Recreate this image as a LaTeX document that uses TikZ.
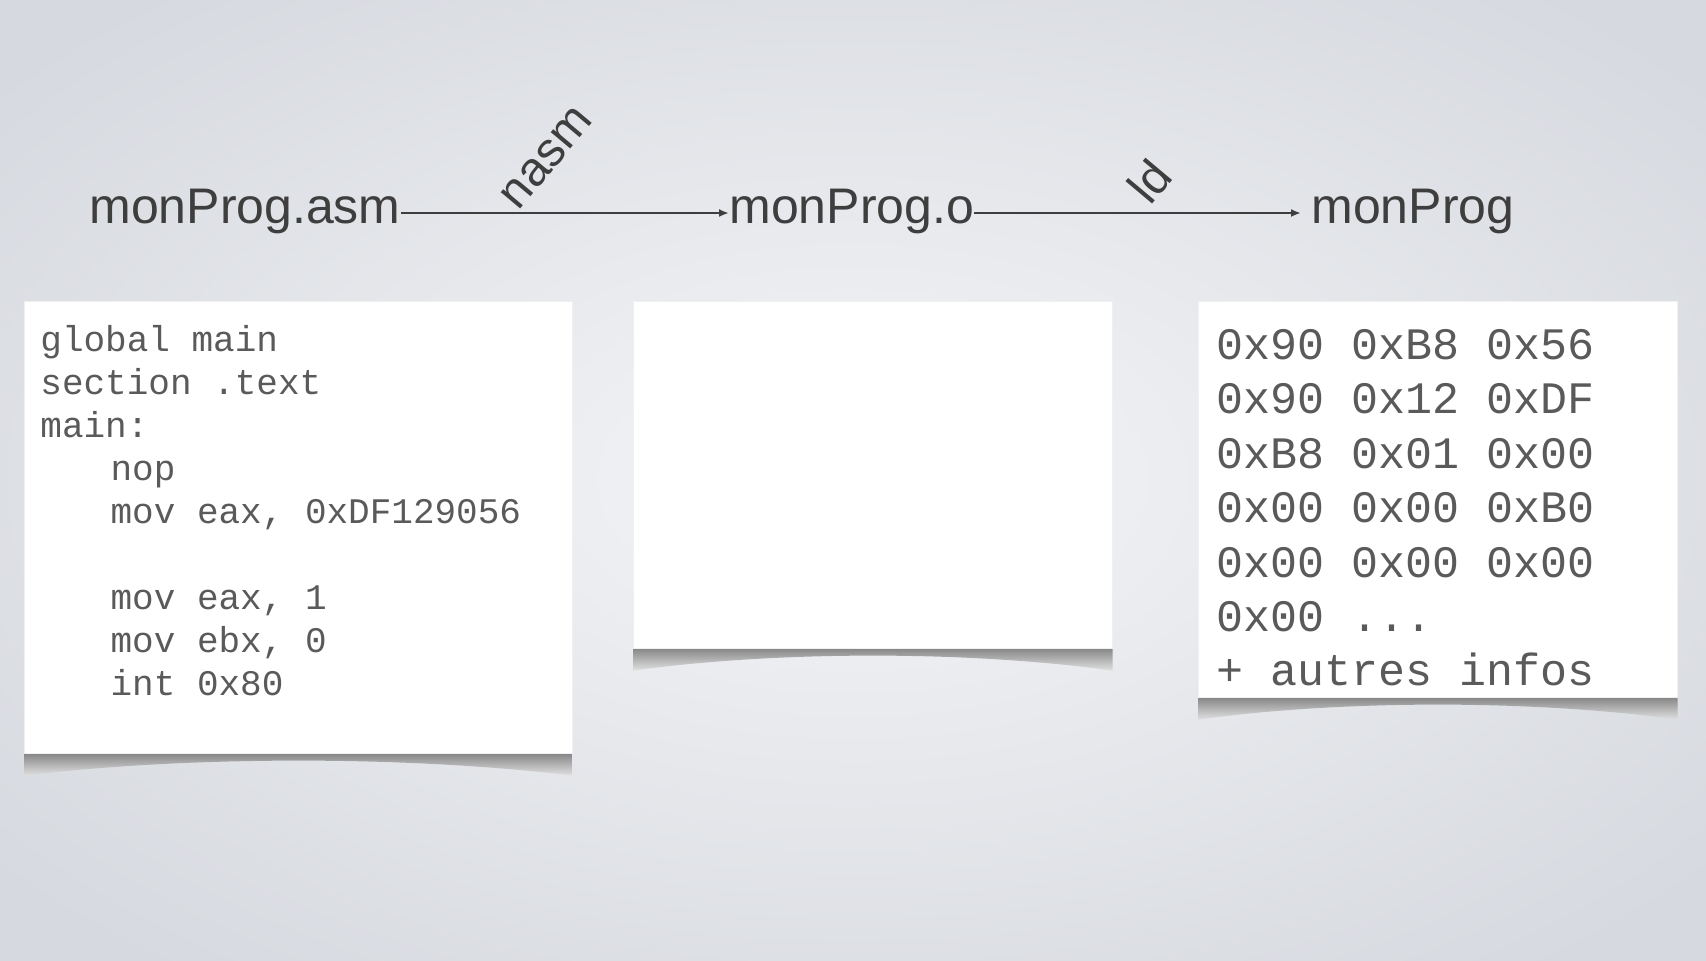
\documentclass[tikz,border=0pt]{standalone}
\usepackage{fontspec}
\setmainfont{Liberation Sans}
\newfontfamily\codefont{Liberation Mono}
\usepackage{tikz}
\usetikzlibrary{positioning, arrows.meta, calc, backgrounds}
\definecolor{slbgin}{HTML}{F4F5F7}
\definecolor{slbgout}{HTML}{D6D9DF}
\definecolor{sltext}{HTML}{3E3E3E}
\definecolor{slcode}{HTML}{5A5A5A}

\begin{document}
\begin{tikzpicture}[
  x=0.5pt, y=-0.5pt,
  filename/.style={font=\fontsize{25}{30}\selectfont, text=sltext, inner sep=0pt},
  tool/.style={font=\fontsize{24}{28}\selectfont, text=sltext, rotate=50, inner sep=0pt},
  paper/.style={rectangle, fill=white, draw=black!6, line width=0.3pt,
    inner sep=0pt, anchor=north west},
  code/.style={text=slcode, align=left, inner sep=0pt},
  arr/.style={-{Latex[length=5pt,width=4pt]}, line width=1pt, color=sltext},
]
\useasboundingbox (0,0) rectangle (1706,960);

% noms de fichiers
\node[filename, anchor=base west] (asm) at (89,223) {monProg.asm};
\node[filename, anchor=base west] (obj) at (729,223) {monProg.o};
\node[filename, anchor=base west] (exe) at (1311,223) {monProg};

\draw[arr] ([yshift=5pt]asm.base east) -- ([yshift=5pt]obj.base west);
\draw[arr] ([yshift=5pt]obj.base east) -- ([xshift=-5pt, yshift=5pt]exe.base west);

\node[tool] (nasm) at (547,158) {nasm};
\node[tool] (ld) at (1149,181) {ld};

% feuilles
\node[paper, minimum width=274pt, minimum height=226pt] (src) at (24,301) {};
\node[paper, minimum width=239.5pt, minimum height=173.5pt] (objbox) at (633,301) {};
\node[paper, minimum width=239.5pt, minimum height=198pt] (exebox) at (1198,301) {};

\node[code, font=\codefont\fontsize{18}{21.5}\selectfont,
  below right=12pt and 8pt of src.north west] (srccode) {%
  global main\\
  section .text\\
  main:\\
  \hspace*{1.95em}nop\\
  \hspace*{1.95em}mov eax, 0xDF129056\\
  \mbox{}\\
  \hspace*{1.95em}mov eax, 1\\
  \hspace*{1.95em}mov ebx, 0\\
  \hspace*{1.95em}int 0x80};

\node[code, font=\codefont\fontsize{22.5}{27.2}\selectfont,
  below right=14pt and 9pt of exebox.north west] (execode) {%
  0x90 0xB8 0x56\\
  0x90 0x12 0xDF\\
  0xB8 0x01 0x00\\
  0x00 0x00 0xB0\\
  0x00 0x00 0x00\\
  0x00 ...\\
  + autres infos};

% fond et ombres
\begin{scope}[on background layer]
  \fill[slbgout] (0,0) rectangle (1706,960);
  \shade[inner color=slbgin, outer color=slbgout] (-250,-150) rectangle (1956,1110);
  \foreach \p in {src, objbox, exebox} {
    \shade[top color=black!50, bottom color=black!12]
      ([yshift=1pt]\p.south west) -- ([yshift=1pt]\p.south east)
      -- ([yshift=-11pt]\p.south east)
      .. controls ([yshift=-1pt]$(\p.south east)!0.3!(\p.south west)$)
      and ([yshift=-1pt]$(\p.south east)!0.7!(\p.south west)$)
      .. ([yshift=-11pt]\p.south west) -- cycle;
  }
\end{scope}
\end{tikzpicture}
\end{document}
